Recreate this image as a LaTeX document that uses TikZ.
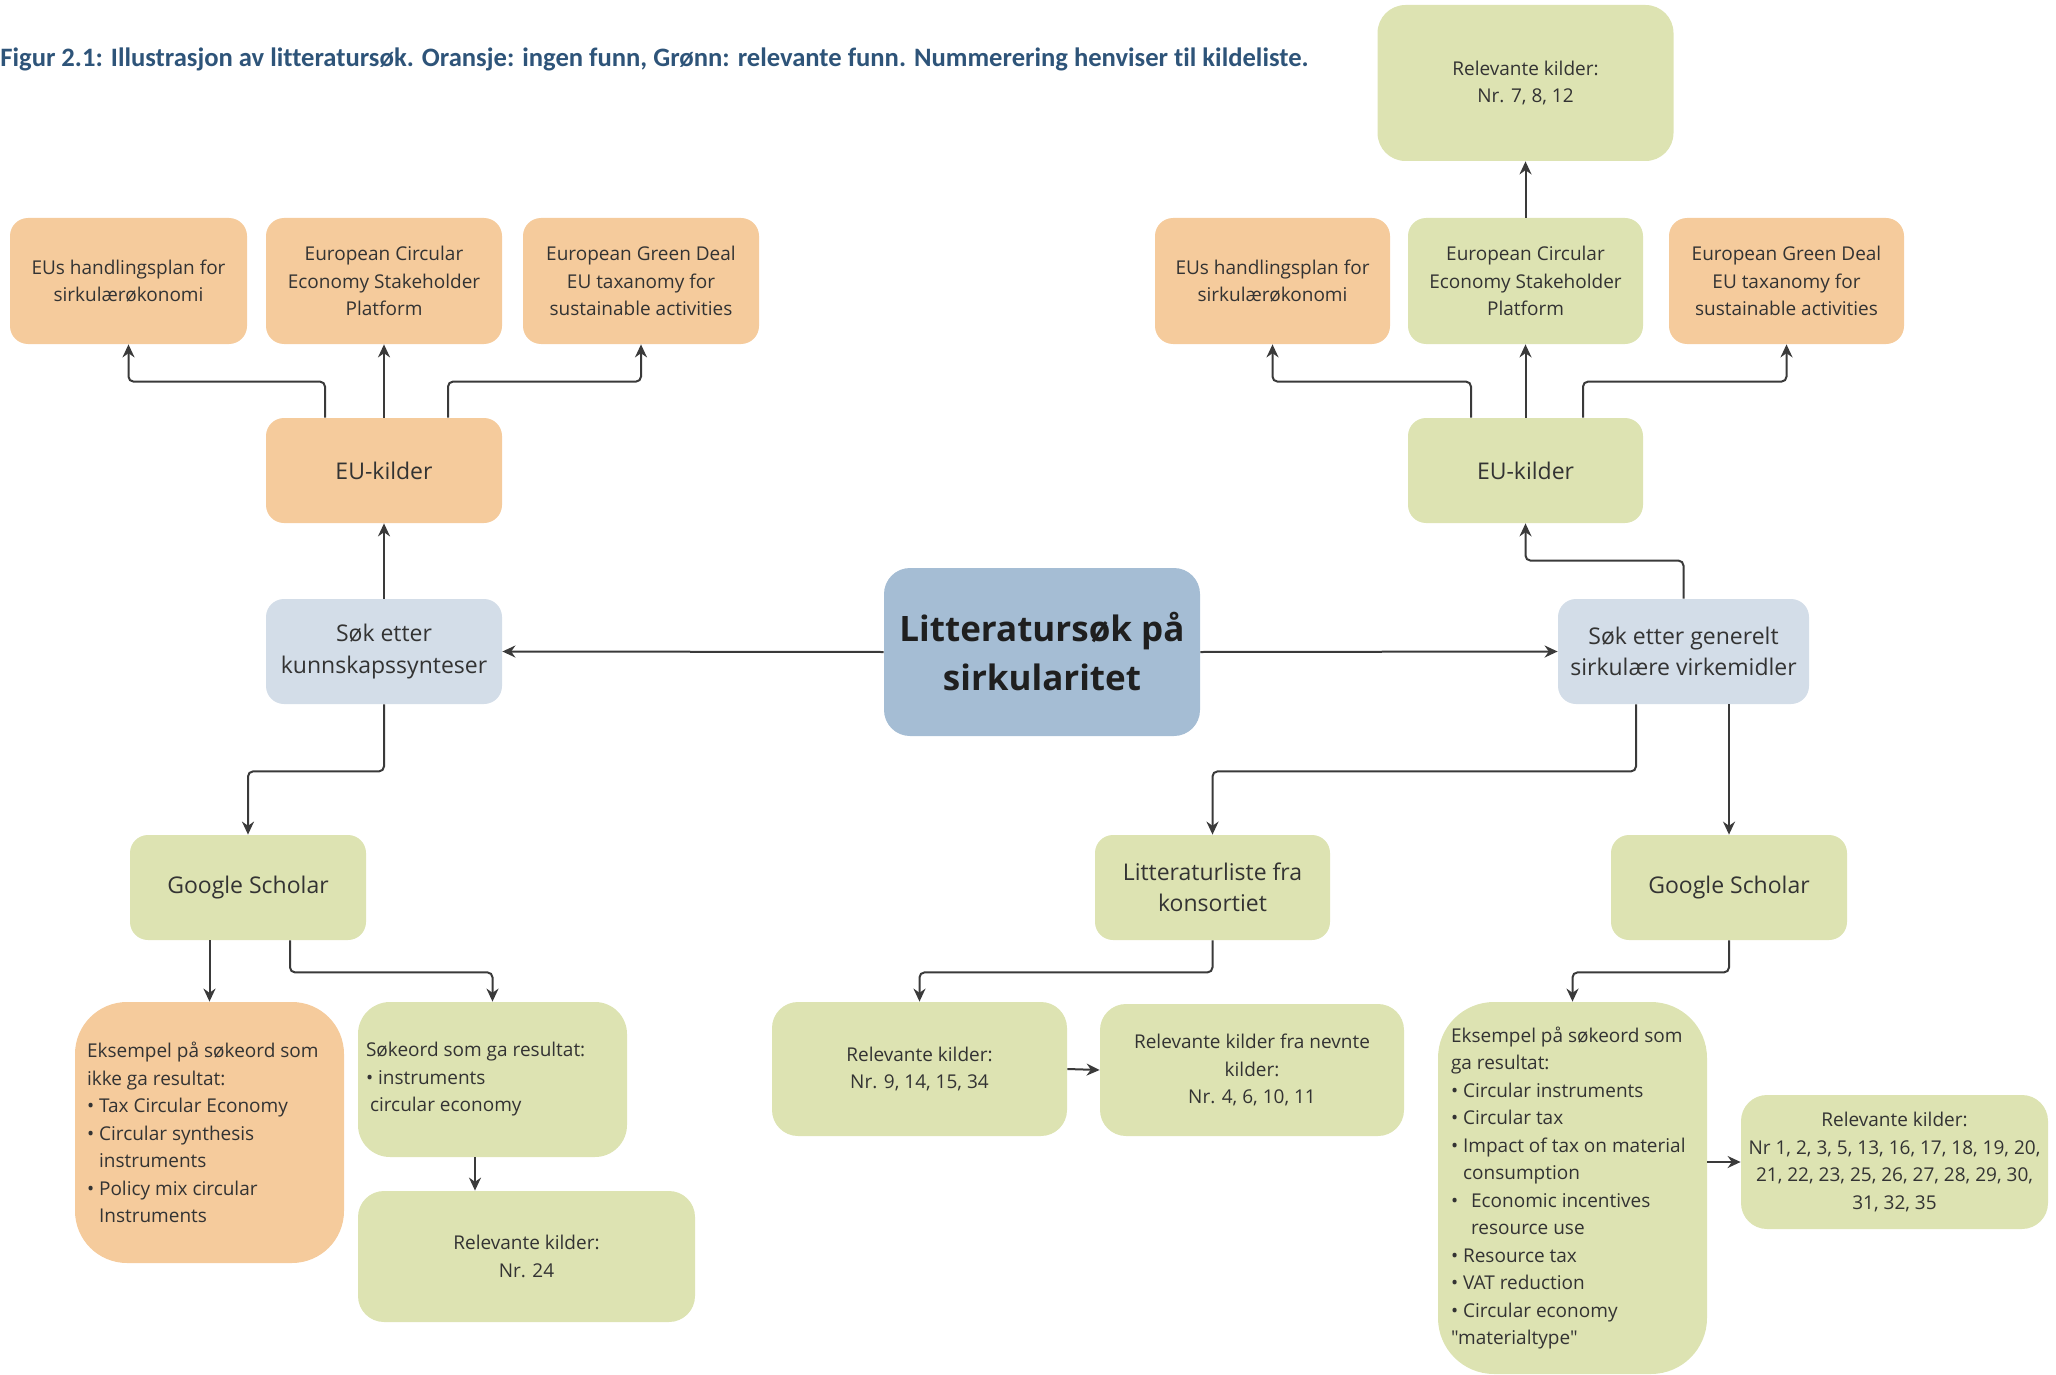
\documentclass[tikz,border=0pt]{standalone}
\usepackage{fontspec}
\setmainfont{Open Sans}
\newfontfamily\titlefont[Ligatures=NoCommon]{Carlito}
\usetikzlibrary{arrows.meta,calc}
\definecolor{orng}{HTML}{F5CB9C}
\definecolor{grn}{HTML}{DDE3B2}
\definecolor{lblue}{HTML}{D3DDE8}
\definecolor{cblue}{HTML}{A5BDD4}
\definecolor{txt}{HTML}{333333}
\definecolor{ttl}{HTML}{2E5479}
\definecolor{linec}{HTML}{3A3A3A}
\tikzset{
  box/.style={rounded corners=9pt, inner sep=2pt, align=center, text=txt,
    font=\fontsize{9.5}{13.75}\selectfont},
  big/.style={font=\fontsize{11.5}{15.75}\selectfont},
  sz/.style 2 args={minimum width=#1*0.5pt, minimum height=#2*0.5pt},
  ltext/.style={anchor=west, inner sep=0pt, align=left, text=txt,
    font=\fontsize{9.5}{13.75}\selectfont},
  arr/.style={draw=linec, line width=1pt, -{Stealth[length=6.5pt,width=6pt]}, rounded corners=2.5pt},
}
\begin{document}
\begin{tikzpicture}[x=0.5pt,y=-0.5pt]
\useasboundingbox (0,0) rectangle (2056,1375);

\node[anchor=west, inner sep=0pt, text=ttl, font=\titlefont\bfseries\fontsize{13.3}{16}\selectfont] (title) at (0,59)
  {Figur 2.1: Illustrasjon av litteratursøk. Oransje: ingen funn, Grønn: relevante funn. Nummerering henviser til kildeliste.};

% centre
\node[box, fill=cblue, rounded corners=13pt, sz={316}{168}, text=black!88,
  font=\bfseries\fontsize{17.5}{24.5}\selectfont] (C) at (1042,652) {Litteratursøk på\\sirkularitet};

% left branch
\node[box, big, fill=lblue, sz={236}{105}] (LSok) at (384,651.5) {Søk etter\\kunnskapssynteser};
\node[box, big, fill=orng, sz={236}{105}] (LEU) at (384,470.5) {EU-kilder};
\node[box, fill=orng, sz={237}{126}] (L1) at (128.5,281) {EUs handlingsplan for\\sirkulærøkonomi};
\node[box, fill=orng, sz={236}{126}] (L2) at (384,281) {European Circular\\Economy Stakeholder\\Platform};
\node[box, fill=orng, sz={236}{126}] (L3) at (641,281) {European Green Deal\\EU taxanomy for\\sustainable activities};
\node[box, big, fill=grn, sz={236}{105}] (LGS) at (248,887.5) {Google Scholar};
\node[box, fill=orng, rounded corners=26pt, sz={269}{261}] (LEks) at (209.5,1132.5) {};
\node[ltext] (LEkst) at ([xshift=6pt]LEks.west)
  {Eksempel på søkeord som\\ikke ga resultat:\\• Tax Circular Economy\\• Circular synthesis\\\phantom{• }instruments\\• Policy mix circular\\\phantom{• }Instruments};
\node[box, fill=grn, rounded corners=16pt, sz={269}{155}] (LSokeord) at (492.5,1079.5) {};
\node[ltext] (LSokeordt) at ([xshift=4pt]LSokeord.west)
  {Søkeord som ga resultat:\\• instruments\\\hspace{2pt}circular economy};
\node[box, fill=grn, rounded corners=13pt, sz={337}{131}] (LRel24) at (526.5,1256.5) {Relevante kilder:\\Nr. 24};

% right branch
\node[box, big, fill=lblue, sz={251}{105}] (RSok) at (1683.5,651.5) {Søk etter generelt\\sirkulære virkemidler};
\node[box, big, fill=grn, sz={235}{105}] (REU) at (1525.5,470.5) {EU-kilder};
\node[box, fill=orng, sz={235}{126}] (R1) at (1272.5,281) {EUs handlingsplan for\\sirkulærøkonomi};
\node[box, fill=grn, sz={235}{126}] (R2) at (1525.5,281) {European Circular\\Economy Stakeholder\\Platform};
\node[box, fill=orng, sz={235}{126}] (R3) at (1786.5,281) {European Green Deal\\EU taxanomy for\\sustainable activities};
\node[box, fill=grn, rounded corners=14pt, sz={296}{156}] (RRel7) at (1525.5,83) {Relevante kilder:\\Nr. 7, 8, 12};
\node[box, big, fill=grn, sz={235}{105}] (RLit) at (1212.5,887.5) {Litteraturliste fra\\konsortiet};
\node[box, big, fill=grn, sz={236}{105}] (RGS) at (1729,887.5) {Google Scholar};
\node[box, fill=grn, rounded corners=13pt, sz={295}{134}] (RRel9) at (919.5,1069) {Relevante kilder:\\Nr. 9, 14, 15, 34};
\node[box, fill=grn, rounded corners=13pt, sz={304}{132}] (RNev) at (1252,1070) {Relevante kilder fra nevnte\\kilder:\\Nr. 4, 6, 10, 11};
\node[box, fill=grn, rounded corners=28pt, sz={269}{372}] (REks) at (1572.5,1188) {};
\node[ltext] (REkst) at ([xshift=6.5pt]REks.west)
  {Eksempel på søkeord som\\ga resultat:\\• Circular instruments\\• Circular tax\\• Impact of tax on material\\\phantom{• }consumption\\•\hspace{4pt} Economic incentives\\\phantom{•\hspace{4pt} }resource use\\• Resource tax\\• VAT reduction\\• Circular economy\\{\addfontfeature{Ligatures=TeXOff}"materialtype"}};
\node[box, fill=grn, rounded corners=13pt, sz={307}{134}] (RRelNr) at (1894.5,1162) {Relevante kilder:\\Nr 1, 2, 3, 5, 13, 16, 17, 18, 19, 20,\\21, 22, 23, 25, 26, 27, 28, 29, 30,\\31, 32, 35};

% connectors left
\draw[arr] (C.west) -- (LSok.east);
\draw[arr] (LSok.north) -- (LEU.south);
\draw[arr] ($(LEU.north)+(-59,0)$) -- ++(0,-36) -| (L1.south);
\draw[arr] (LEU.north) -- (L2.south);
\draw[arr] ($(LEU.north)+(64,0)$) -- ++(0,-36) -| (L3.south);
\draw[arr] (LSok.south) -- ++(0,67) -| (LGS.north);
\draw[arr] (LGS.south -| LEks.north) -- (LEks.north);
\draw[arr] ($(LGS.south)+(42,0)$) -- ++(0,32) -| (LSokeord.north);
\draw[arr] ($(LSokeord.south)+(-17.5,0)$) -- ($(LRel24.north)+(-51.5,0)$);

% connectors right
\draw[arr] (C.east) -- (RSok.west);
\draw[arr] (RSok.north) -- ++(0,-38) -| (REU.south);
\draw[arr] ($(REU.north)+(-54.5,0)$) -- ++(0,-36) -| (R1.south);
\draw[arr] (REU.north) -- (R2.south);
\draw[arr] ($(REU.north)+(57.5,0)$) -- ++(0,-36) -| (R3.south);
\draw[arr] (R2.north) -- (RRel7.south);
\draw[arr] ($(RSok.south)+(-47.5,0)$) -- ++(0,67) -| (RLit.north);
\draw[arr] (RGS.north |- RSok.south) -- (RGS.north);
\draw[arr] (RLit.south) -- ++(0,32) -| (RRel9.north);
\draw[arr] (RRel9.east) -- (RNev.west);
\draw[arr] (RGS.south) -- ++(0,32) -| (REks.north);
\draw[arr] (REks.east |- RRelNr.west) -- (RRelNr.west);
\end{tikzpicture}
\end{document}
